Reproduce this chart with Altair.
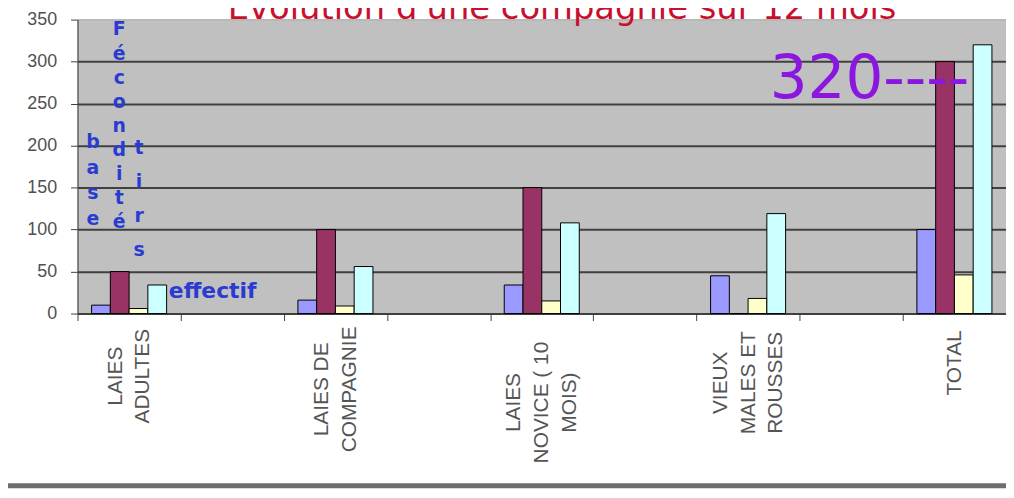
import altair as alt
import pandas as pd

# ---- data ----
groups = ["LAIES|ADULTES", "LAIES DE|COMPAGNIE", "LAIES|NOVICE ( 10|MOIS)",
          "VIEUX|MALES ET|ROUSSES", "TOTAL"]
gaps = ["gap1", "gap2", "gap3", "gap4"]
series = ["base", "Fécondité", "tirs", "effectif"]
base = [10, 16, 34, 45, 100]
fecondite = [50, 100, 150, 0, 300]
tirs = [6, 9, 15, 18, 46]
effectif = [34, 56, 108, 119, 320]
colors = ["#9999FF", "#993366", "#FFFFCC", "#CCFFFF"]
y_ticks = [0, 50, 100, 150, 200, 250, 300, 350]

domain = [groups[0], gaps[0], groups[1], gaps[1], groups[2], gaps[2],
          groups[3], gaps[3], groups[4]]

rows = []
for i, g in enumerate(groups):
    for s, vals in zip(series, [base, fecondite, tirs, effectif]):
        rows.append({"cat": g, "serie": s, "val": vals[i]})
df = pd.DataFrame(rows)

W, H = 935, 296
BLUE = "#2A3BD0"
LH = 28

parts = "split(datum.value,'|')"
n_lines = f"length({parts})"
max_len = (f"max(length({parts}[0]), length({parts}[1] || ''), "
           f"length({parts}[2] || ''))")

bars = alt.Chart(df).mark_bar(stroke="#000000", strokeWidth=1).encode(
    x=alt.X("cat:N", sort=domain,
            scale=alt.Scale(domain=domain, paddingInner=0, paddingOuter=0),
            axis=alt.Axis(title=None,
                          labelExpr="indexof(datum.label,'gap')==0 ? '' : split(datum.label,'|')",
                          labelAngle=270, labelAlign="center", labelBaseline="middle",
                          labelOffset=alt.expr(f"-({n_lines}-1)*{LH / 2}"),
                          labelPadding=alt.expr(f"9 + {max_len}*6.65"),
                          labelFont="Liberation Sans", labelFontSize=21,
                          labelColor="#555555", labelLineHeight=LH, labelOverlap=False,
                          labelBound=False, tickBand="extent", tickSize=7,
                          tickColor="#404040", domainColor="#404040", grid=False)),
    xOffset=alt.XOffset("serie:N",
                        scale=alt.Scale(domain=series, paddingInner=0, paddingOuter=0.75)),
    y=alt.Y("val:Q", scale=alt.Scale(domain=[0, 350], nice=False),
            axis=alt.Axis(title=None, values=y_ticks, tickSize=7, tickColor="#404040",
                          domainColor="#404040", labelFont="Liberation Sans",
                          labelFontSize=18, labelColor="#505050", labelPadding=14,
                          gridWidth=2,
                          gridColor=alt.condition("datum.value >= 350",
                                                  alt.value("#B8B8B8"),
                                                  alt.value("#404040")))),
    color=alt.Color("serie:N", scale=alt.Scale(domain=series, range=colors), legend=None),
)

ann = alt.Data(values=[{"k": 0}])


def txt(text, x, y, **kw):
    return alt.Chart(ann).mark_text(text=text, **kw).encode(x=alt.value(x), y=alt.value(y))


title_t = txt("Evolution d'une compagnie sur 12 mois", 488, -1, font="DejaVu Sans",
              fontSize=34, color="#C8102E", align="center", baseline="alphabetic")
base_t = txt(["b", "a", "s", "e"], 15.5, 123, lineHeight=26, font="DejaVu Sans",
             fontWeight="bold", fontSize=19, color=BLUE, align="center", baseline="middle")
fec_t = txt(["F", "é", "c", "o", "n", "d", "i", "t", "é"], 42, 10, lineHeight=24.25,
            font="DejaVu Sans", fontWeight="bold", fontSize=19, color=BLUE,
            align="center", baseline="middle")
tirs_t = txt(["t", "i", "r", "s"], 62, 129, lineHeight=34.5, font="DejaVu Sans",
             fontWeight="bold", fontSize=19, color=BLUE, align="center", baseline="middle")
eff_t = txt("effectif", 92, 273, font="DejaVu Sans", fontWeight="bold", fontSize=22,
            color=BLUE, align="left", baseline="middle")
big_t = txt("320----", 697, 79, font="DejaVu Sans", fontSize=60, color="#8A16E0",
            align="left", baseline="alphabetic")
frame = alt.Chart(ann).mark_rect(color="#6E6E6E").encode(
    x=alt.value(-78), x2=alt.value(W), y=alt.value(467), y2=alt.value(472))

chart = alt.layer(bars, title_t, base_t, fec_t, tirs_t, eff_t, big_t, frame).properties(
    width=W, height=H,
    padding={"left": 70, "top": 10, "right": 0, "bottom": 176},
    autosize=alt.AutoSizeParams(type="none"),
    background="#FFFFFF",
).configure_view(fill="#C0C0C0", stroke="#A8A8A8")

chart.save("out.html", embed_options={"renderer": "svg", "actions": False})
